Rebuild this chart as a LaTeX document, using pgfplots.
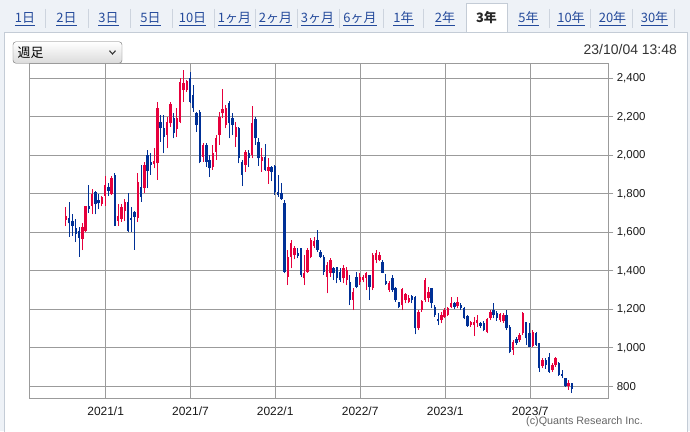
\documentclass[border=0pt]{standalone}
\usepackage{pgfplots}
\pgfplotsset{compat=1.18}
\usepackage{pgfplotstable}
\usepackage{fontspec}
\setmainfont{Liberation Sans}
\newfontfamily\jp{Noto Sans CJK JP}
\definecolor{cred}{RGB}{230,0,60}
\definecolor{cblue}{RGB}{0,48,150}
\definecolor{gridc}{RGB}{155,155,155}
\definecolor{linkc}{RGB}{36,74,155}
\definecolor{tabbg}{RGB}{238,242,247}
\definecolor{sepc}{RGB}{205,212,222}
\definecolor{panelc}{RGB}{196,204,214}

\pgfplotstableread{
x o h l c
0 1663 1732 1632 1684
5 1566 1646 1507 1629
6 1606 1739 1601 1736
8 1739 1823 1693 1797
11 1745 1790 1735 1783
12 1791 1895 1739 1848
14 1797 1892 1795 1883
16 1658 1745 1632 1684
17 1670 1745 1655 1732
18 1710 1771 1658 1757
22 1673 1906 1655 1863
24 1829 1967 1803 1950
27 1953 2036 1932 1970
28 1958 2275 1872 2247
31 2105 2200 2036 2171
32 2166 2275 2148 2265
34 2136 2244 2097 2192
35 2175 2400 2166 2382
36 2339 2443 2278 2374
37 2339 2392 2330 2386
42 1993 2062 1967 2054
45 1938 2054 1924 2010
46 2019 2105 1976 2088
47 2105 2226 2054 2200
48 2218 2343 2192 2239
49 2157 2261 2140 2244
52 2097 2175 2045 2149
55 1950 2028 1915 2019
57 2002 2256 1984 2166
60 1972 2039 1915 1989
62 1920 1984 1851 1941
68 1369 1508 1326 1473
69 1473 1560 1413 1543
70 1482 1530 1460 1517
73 1361 1482 1326 1387
74 1395 1517 1390 1508
75 1473 1569 1465 1560
76 1530 1575 1520 1556
80 1369 1447 1283 1430
81 1387 1465 1370 1456
85 1361 1430 1335 1413
86 1352 1421 1326 1404
88 1248 1309 1196 1291
90 1343 1387 1326 1369
91 1352 1380 1340 1369
92 1364 1395 1300 1387
94 1309 1491 1300 1482
95 1456 1508 1439 1491
96 1456 1500 1450 1482
99 1300 1348 1291 1339
103 1222 1312 1196 1305
104 1248 1283 1231 1278
105 1236 1274 1231 1257
108 1101 1196 1092 1188
109 1196 1248 1188 1243
110 1248 1361 1239 1352
111 1257 1317 1239 1291
115 1144 1187 1127 1170
116 1161 1205 1153 1196
117 1170 1210 1165 1205
118 1213 1265 1205 1231
120 1217 1265 1205 1239
124 1118 1140 1110 1136
125 1118 1161 1061 1136
126 1127 1170 1107 1144
129 1084 1153 1075 1148
130 1153 1196 1144 1188
133 1144 1180 1135 1175
134 1140 1180 1130 1170
137 989 1040 963 1032
139 1040 1075 1030 1066
140 1075 1187 1066 1179
143 1010 1092 1003 1084
146 906 945 895 937
149 885 920 875 911
150 911 954 902 945
154 802 833 781 815
}\upT

\pgfplotstableread{
x o h l c
1 1675 1758 1577 1646
2 1658 1693 1580 1635
3 1620 1667 1549 1592
4 1609 1629 1473 1571
7 1739 1848 1701 1719
9 1809 1814 1693 1745
10 1770 1800 1720 1750
13 1836 1857 1788 1814
15 1900 1909 1632 1635
19 1757 1805 1601 1606
20 1672 1733 1603 1664
21 1708 1712 1510 1682
23 1837 1950 1759 1785
25 2002 2028 1829 1918
26 1967 2010 1898 1950
29 2175 2209 2071 2140
30 2140 2209 2010 2097
33 2192 2218 2088 2114
38 2400 2434 2270 2278
39 2313 2365 2226 2244
40 2218 2226 2123 2157
41 2226 2235 1958 1967
43 2054 2062 1941 1967
44 1976 2002 1886 1932
50 2270 2284 2088 2166
51 2192 2218 2105 2157
53 2140 2148 1958 1984
54 1967 1976 1840 1898
56 2010 2028 1941 1984
58 2187 2200 2054 2088
59 2071 2088 1946 1984
61 1989 2057 1920 1924
63 1938 1946 1864 1915
64 1944 1950 1794 1811
65 1811 1898 1785 1794
66 1803 1855 1768 1772
67 1754 1768 1387 1395
71 1495 1520 1465 1478
72 1517 1520 1369 1378
77 1560 1612 1499 1508
78 1499 1508 1465 1473
79 1473 1482 1378 1395
82 1413 1421 1352 1387
83 1421 1421 1335 1361
84 1395 1413 1343 1352
87 1343 1378 1222 1248
89 1369 1395 1309 1317
93 1378 1378 1248 1317
97 1447 1456 1387 1390
98 1348 1382 1326 1330
100 1364 1378 1291 1300
101 1312 1317 1239 1248
102 1236 1239 1205 1213
106 1270 1274 1231 1248
107 1265 1270 1070 1101
112 1309 1312 1205 1231
113 1213 1222 1161 1170
114 1150 1179 1118 1139
119 1234 1240 1200 1213
121 1222 1235 1196 1205
122 1205 1210 1148 1153
123 1165 1170 1110 1113
127 1127 1135 1105 1113
128 1130 1140 1085 1092
131 1196 1234 1153 1170
132 1183 1190 1140 1153
135 1170 1196 1092 1101
136 1110 1118 971 980
138 1044 1058 1015 1027
141 1136 1136 1015 1049
142 1075 1127 1003 1006
144 1075 1080 1010 1015
145 1023 1023 876 893
147 937 945 890 911
148 954 971 871 876
151 919 925 855 859
152 862 885 841 855
153 841 841 798 800
155 815 819 764 784
}\downT

\begin{document}
\begin{tikzpicture}[x=1bp,y=1bp]
% background and panel
\path[use as bounding box, fill=tabbg] (0,0) rectangle (690,431);
\draw[panelc, fill=white] (4.5,-2) rectangle (687,399.3);
% tab separators
\foreach \sx in {45,88,130,172,214,255,297,339,383,423,549,590,632,674}{
  \draw[sepc] (\sx,422) -- (\sx,403);
}
% selected tab
\fill[white] (466,398.6) rectangle (507,428.3);
\draw[panelc] (466,399.3) -- (466,428.3) -- (507,428.3) -- (507,399.3);
% tab labels
\begin{scope}[every node/.style={anchor=base, inner sep=0pt, text=linkc, font=\jp\fontsize{13}{13}\selectfont}]
\node at (25,408.5) {\underline{1日}};
\node at (66.5,408.5) {\underline{2日}};
\node at (108.5,408.5) {\underline{3日}};
\node at (150.5,408.5) {\underline{5日}};
\node at (192.5,408.5) {\underline{10日}};
\node at (234.5,408.5) {\underline{1ヶ月}};
\node at (275.5,408.5) {\underline{2ヶ月}};
\node at (317.5,408.5) {\underline{3ヶ月}};
\node at (360,408.5) {\underline{6ヶ月}};
\node at (403.5,408.5) {\underline{1年}};
\node at (445,408.5) {\underline{2年}};
\node[text=black!85] at (486.5,408.5) {\bfseries 3年};
\node at (528.5,408.5) {\underline{5年}};
\node at (571,408.5) {\underline{10年}};
\node at (612.5,408.5) {\underline{20年}};
\node at (654.5,408.5) {\underline{30年}};
\end{scope}
% dropdown
\shade[top color=white, bottom color=black!14, draw=black!55, rounded corners=3bp] (13,367.7) rectangle (122,389.3);
\node[anchor=west, inner sep=0pt, font=\jp\fontsize{13}{13}\selectfont] at (17.5,378.5) {週足};
\draw[line width=1.1bp, black!80] (109.5,380.3) -- (112.5,377.0) -- (115.5,380.3);
% timestamp
\node[anchor=east, inner sep=0pt, text=black!80, font=\fontsize{14}{14}\selectfont] at (677,381) {23/10/04 13:48};
% copyright
\node[anchor=west, inner sep=0pt, text=black!60, font=\fontsize{10.8}{10.8}\selectfont] at (526,9) {(c)Quants Research Inc.};

\begin{axis}[
  at={(29.5bp,33bp)}, anchor=south west, scale only axis,
  width=578.8bp, height=334bp,
  xmin=-11.18, xmax=166.15,
  ymin=739.2, ymax=2474.3,
  axis line style={draw=gridc, line width=1bp},
  xtick={12.16,38.14,64.09,90.13,116.18,142.22},
  xticklabels={2021/1,2021/7,2022/1,2022/7,2023/1,2023/7},
  ytick={800,1000,1200,1400,1600,1800,2000,2200,2400},
  grid=major, major grid style={draw=gridc, line width=0.9bp},
  ytick pos=right, yticklabel pos=right,
  tick align=outside, major tick length=5bp,
  y tick style={draw=gridc, line width=0.9bp},
  x tick style={draw=none},
  yticklabel style={font=\fontsize{11.5}{11.5}\selectfont, text=black!90,
    /pgf/number format/.cd, 1000 sep={,}, assume math mode=true},
  xticklabel style={font=\fontsize{12}{12}\selectfont, text=black!90},
]
% wicks
\addplot[draw=none, mark=none, forget plot, error bars/.cd, y dir=plus, y explicit, error mark=none,
  error bar style={draw=cred, line width=1bp}]
  table[x=x, y=l, y error plus expr=\thisrow{h}-\thisrow{l}] {\upT};
\addplot[draw=none, mark=none, forget plot, error bars/.cd, y dir=plus, y explicit, error mark=none,
  error bar style={draw=cblue, line width=1bp}]
  table[x=x, y=l, y error plus expr=\thisrow{h}-\thisrow{l}] {\downT};
% bodies
\addplot[draw=none, mark=none, forget plot, error bars/.cd, y dir=plus, y explicit, error mark=none,
  error bar style={draw=cred, line width=2.4bp}]
  table[x=x, y=o, y error plus expr=\thisrow{c}-\thisrow{o}] {\upT};
\addplot[draw=none, mark=none, forget plot, error bars/.cd, y dir=plus, y explicit, error mark=none,
  error bar style={draw=cblue, line width=2.4bp}]
  table[x=x, y=c, y error plus expr=\thisrow{o}-\thisrow{c}] {\downT};
\end{axis}
\end{tikzpicture}
\end{document}
